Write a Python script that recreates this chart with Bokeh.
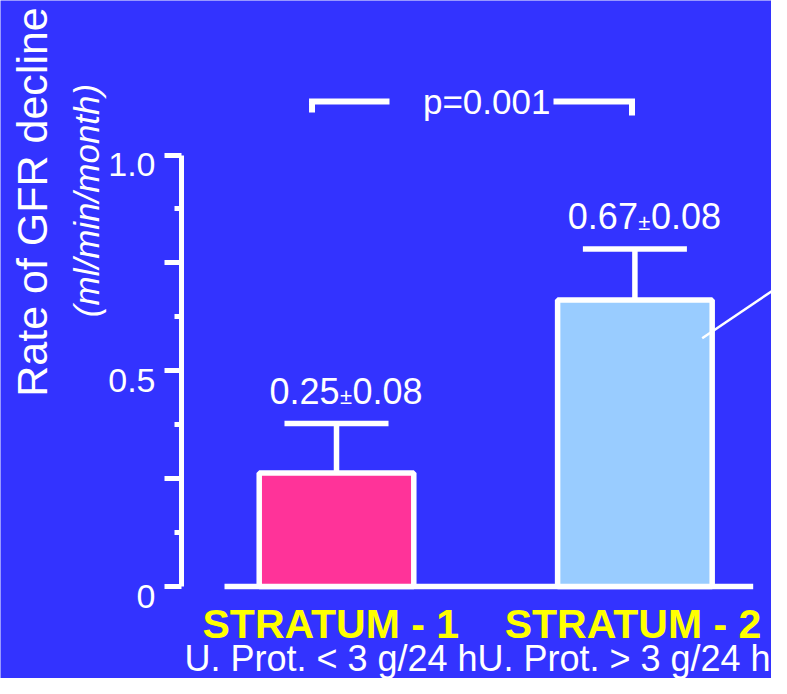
import math
from bokeh.plotting import figure
from bokeh.models import Range1d, FixedTicker
from bokeh.core.properties import value
from bokeh.embed import file_html
from bokeh.resources import INLINE

# ---------------- data ----------------
positions = [1, 2]
strata = ["STRATUM - 1", "STRATUM - 2"]
criteria = ["U. Prot. < 3 g/24 h", "U. Prot. > 3 g/24 h"]
means = [0.263, 0.664]          # bar heights as drawn
errors = [0.115, 0.118]         # error-bar lengths as drawn
mean_labels = ["0.25", "0.67"]
sd_labels = ["0.08", "0.08"]
bar_colors = ["#FF3399", "#99CCFF"]
y_ticks = [0, 0.25, 0.5, 0.75, 1.0]
y_minor_ticks = [0.125, 0.375, 0.625, 0.875]
y_label_ticks = [0, 0.5, 1.0]
y_tick_labels = ["0", "0.5", "1.0"]
p_text = "p=0.001"
y_title = "Rate of GFR decline"
y_subtitle = "(ml/min/month)"

# ---------------- style ----------------
BG = "#3333FF"
FONT = value("Liberation Sans")
LW = 5.5
AXIS_X = 0.4789

p = figure(width=771, height=678, output_backend="svg", toolbar_location=None,
           x_range=Range1d(-0.12601, 2.45777), y_range=Range1d(-0.2132, 1.3581),
           x_axis_location=None, y_axis_location="left",
           min_border_left=0, min_border_right=0, min_border_top=0, min_border_bottom=0,
           background_fill_color=BG, border_fill_color=BG, outline_line_color=None)
p.grid.visible = False

ax = p.yaxis[0]
ax.fixed_location = AXIS_X
ax.ticker = FixedTicker(ticks=y_ticks, minor_ticks=y_minor_ticks)
ax.bounds = (0, 1)
ax.axis_line_color = "white"
ax.axis_line_width = 5
ax.major_tick_line_color = "white"
ax.major_tick_line_width = 5
ax.major_tick_out = 17
ax.major_tick_in = 0
ax.minor_tick_line_color = "white"
ax.minor_tick_line_width = 5
ax.minor_tick_out = 7
ax.minor_tick_in = 0
ax.major_label_text_alpha = 0

# tick labels
p.text(x=[AXIS_X] * len(y_label_ticks), y=[t - 0.0225 for t in y_label_ticks], text=y_tick_labels,
       x_offset=-25.5, text_align="right", text_baseline="alphabetic", text_font_size="34px",
       text_color="white", text_font=FONT)

# baseline
p.segment(x0=[positions[0] - 0.3753], y0=[0], x1=[positions[-1] + 0.3964], y1=[0],
          line_color="white", line_width=LW)

# bars
p.vbar(x=positions, top=means, bottom=0, width=0.518, fill_color=bar_colors,
       line_color="white", line_width=LW)

# error bars
tops = [m + e for m, e in zip(means, errors)]
p.segment(x0=positions, y0=means, x1=positions, y1=tops, line_color="white", line_width=LW)
cap = 0.1743
p.segment(x0=[x - cap for x in positions], y0=tops, x1=[x + cap for x in positions], y1=tops,
          line_color="white", line_width=LW)

# value labels  (mean ± sd)
lab_y = [t + 0.0756 for t in tops]
pm_y = [t + 0.062 for t in tops]
p.text(x=positions, y=lab_y, text=mean_labels, x_offset=3, text_align="right",
       text_baseline="alphabetic", text_font_size="36px", text_color="white", text_font=FONT)
p.text(x=positions, y=pm_y, text=["\u00b1"] * len(positions), x_offset=9.5, text_align="center",
       text_baseline="alphabetic", text_font_size="22px", text_color="white", text_font=FONT)
p.text(x=positions, y=lab_y, text=sd_labels, x_offset=16, text_align="left",
       text_baseline="alphabetic", text_font_size="36px", text_color="white", text_font=FONT)

# significance bracket
by = 1.124
p.multi_line(xs=[[positions[0] - 0.082, positions[0] - 0.082, positions[0] + 0.1776],
                 [positions[1] - 0.2728, positions[1] - 0.0097, positions[1] - 0.0097]],
             ys=[[1.0985, by, by], [by, by, 1.0915]],
             line_color="white", line_width=6, line_join="miter")
p.text(x=[sum(positions) / len(positions)], y=[1.1230], text=[p_text], x_offset=1,
       text_align="center", text_baseline="alphabetic", text_font_size="35px",
       text_color="white", text_font=FONT)

# category labels
p.text(x=[positions[0] - 0.0191, positions[1] - 0.0064], y=[-0.0876] * 2, text=strata,
       text_align="center", text_baseline="alphabetic", text_font_size="41px",
       text_font_style="bold", text_color="#FFFF00", text_font=FONT)
p.text(x=[positions[0] - 0.0184, positions[1] - 0.0365], y=[-0.1660] * 2, text=criteria,
       text_align="center", text_baseline="alphabetic", text_font_size="36px",
       text_color="white", text_font=FONT)

# pointer line
p.segment(x0=[positions[1] + 0.2255], y0=[0.5754], x1=[positions[1] + 0.5214], y1=[0.7138],
          line_color="white", line_width=2.5)

# y-axis titles
p.text(x=[-0.0188], y=[0.8911], text=[y_title], angle=math.pi / 2, text_align="center",
       text_baseline="alphabetic", text_font_size="43px", text_color="white", text_font=FONT)
p.text(x=[0.1620], y=[0.8946], text=[y_subtitle], angle=math.pi / 2, text_align="center",
       text_baseline="alphabetic", text_font_size="35px", text_font_style="italic",
       text_color="white", text_font=FONT)

open("out.html", "w").write(file_html(p, INLINE))
